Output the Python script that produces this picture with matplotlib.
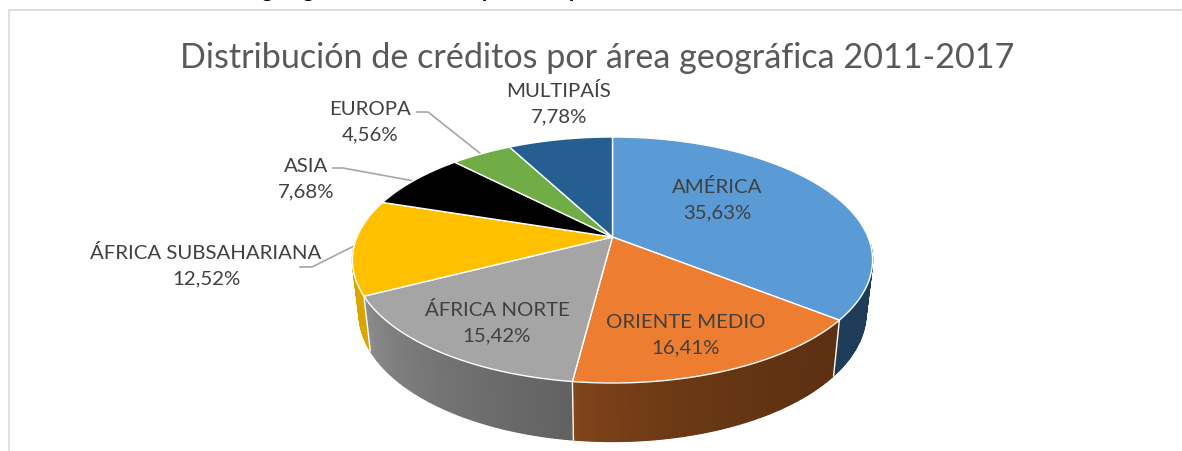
"""Pie chart with a perspective look: credits by geographic area."""

import numpy as np
import matplotlib
matplotlib.use("Agg")
import matplotlib.pyplot as plt
from matplotlib.colors import to_rgb

plt.rcParams["font.family"] = ["Lato", "DejaVu Sans"]

# Data, clockwise from 12 o'clock
CATEGORIES = [
    "AMÉRICA",
    "ORIENTE MEDIO",
    "ÁFRICA NORTE",
    "ÁFRICA SUBSAHARIANA",
    "ASIA",
    "EUROPA",
    "MULTIPAÍS",
]
VALUES = [35.63, 16.41, 15.42, 12.52, 7.68, 4.56, 7.78]

TITLE = "Distribución de créditos por área geográfica 2011-2017"
CUT_OFF_LETTERS = ["g", "g", "p", "p"]

# Style
TOP_COLORS = ["#5B9BD5", "#ED7D31", "#A5A5A5", "#FFC000", "#000000", "#70AD47", "#255E91"]
SIDE_COLORS = [
    ("#1F3C58", "#1F3C58"),
    ("#8C4B1E", "#5C3011"),
    ("#949494", "#626262"),
    ("#DBA500", "#DBA500"),
    ("#000000", "#000000"),
    ("#5A8A38", "#5A8A38"),
    ("#1C466C", "#1C466C"),
]
TEXT_COLOR = "#404040"
TITLE_COLOR = "#595959"
FRAME_COLOR = "#D9D9D9"
LEADER_COLOR = "#A6A6A6"

# Layout, in pixels of the 1182x452 picture
CENTER_X = 612.5
TOP_PLANE = {"cy": 238, "a": 255.5, "b": 118.7}
BOTTOM_PLANE = {"cy": 290, "a": 249, "b": 124}
PERSPECTIVE = 0.187

LABEL_POS = [
    (717, 200),
    (686, 335),
    (497, 323),
    (206, 266),
    (306, 179),
    (370, 122),
    (559, 104),
]
# Only the labels outside the pie have a leader line
LEADERS = {
    3: [(300, 268), (312, 268), (354, 247)],
    4: [(333, 169), (343, 169), (414, 182)],
    5: [(417, 113), (428, 113), (481, 155)],
}
LETTER_X = [267, 308, 488, 575]


def project(theta, plane):
    """Map angles (clockwise from 12 o'clock) on the disc to picture pixels."""
    u, v = np.sin(theta), np.cos(theta)
    w = 1 + PERSPECTIVE * v
    return CENTER_X + plane["a"] * u / w, plane["cy"] - plane["b"] * v / w


def blend(c0, c1, t):
    return tuple((1 - t) * a + t * b for a, b in zip(to_rgb(c0), to_rgb(c1)))


fig = plt.figure(figsize=(11.82, 4.52), dpi=100)
ax = fig.add_axes([0, 0, 1, 1])
ax.set_xlim(0, 1182)
ax.set_ylim(452, 0)
ax.axis("off")

# Frame
ax.plot([1182, 8.5, 8.5], [10.5, 10.5, 452], color=FRAME_COLOR, linewidth=1.2)

shares = np.array(VALUES) / sum(VALUES)
edges = np.concatenate([[0], np.cumsum(shares)]) * 2 * np.pi

# Side wall: small quads painted back to front, front half only
quads = []
for i in range(len(VALUES)):
    thetas = np.linspace(edges[i], edges[i + 1], max(int(shares[i] * 500), 8))
    xb, _ = project(thetas, BOTTOM_PLANE)
    for j in range(len(thetas) - 1):
        if np.cos(thetas[j]) > -0.05:
            continue
        t = (xb[j] - xb.min()) / (xb.max() - xb.min())
        color = blend(*SIDE_COLORS[i], t ** 0.45)
        quads.append((np.cos(thetas[j]), thetas[j], thetas[j + 1], color))

for _, t0, t1, color in sorted(quads, key=lambda q: -q[0]):
    seg = np.linspace(t0, t1, 3)
    x0, y0 = project(seg, TOP_PLANE)
    x1, y1 = project(seg, BOTTOM_PLANE)
    ax.fill(
        np.concatenate([x0, x1[::-1]]),
        np.concatenate([y0, y1[::-1]]),
        color=color,
        linewidth=0.9,
        zorder=2,
    )

# White seams between the side walls
for theta in edges[1:4]:
    x0, y0 = project(theta, TOP_PLANE)
    x1, y1 = project(theta, BOTTOM_PLANE)
    ax.plot([x0, x1], [y0, y1], color="white", linewidth=1, zorder=3)

# Top of the pie
cx, cy = CENTER_X, TOP_PLANE["cy"]
for i, color in enumerate(TOP_COLORS):
    thetas = np.linspace(edges[i], edges[i + 1], 120)
    x, y = project(thetas, TOP_PLANE)
    ax.fill(
        np.concatenate([[cx], x]),
        np.concatenate([[cy], y]),
        facecolor=color,
        edgecolor="white",
        linewidth=1,
        joinstyle="round",
        zorder=4,
    )

# Labels and leader lines
for i, (name, value) in enumerate(zip(CATEGORIES, VALUES)):
    label = f"{name}\n{value:.2f}%".replace(".", ",")
    ax.text(
        *LABEL_POS[i],
        label,
        ha="center",
        va="center",
        fontsize=14.7,
        color=TEXT_COLOR,
        linespacing=1.62,
        zorder=6,
    )
    if i in LEADERS:
        lx, ly = zip(*LEADERS[i])
        ax.plot(lx, ly, color=LEADER_COLOR, linewidth=1.2, zorder=3.5)

ax.text(597.5, 58, TITLE, ha="center", va="center", fontsize=24.6, color=TITLE_COLOR, zorder=6)

# Heading of the page above the chart, cut off by the crop
for x, letter in zip(LETTER_X, CUT_OFF_LETTERS):
    ax.text(x, -3, letter, ha="center", va="baseline", fontsize=15, fontweight="bold", color="black")

fig.savefig("out.png", dpi=100)
